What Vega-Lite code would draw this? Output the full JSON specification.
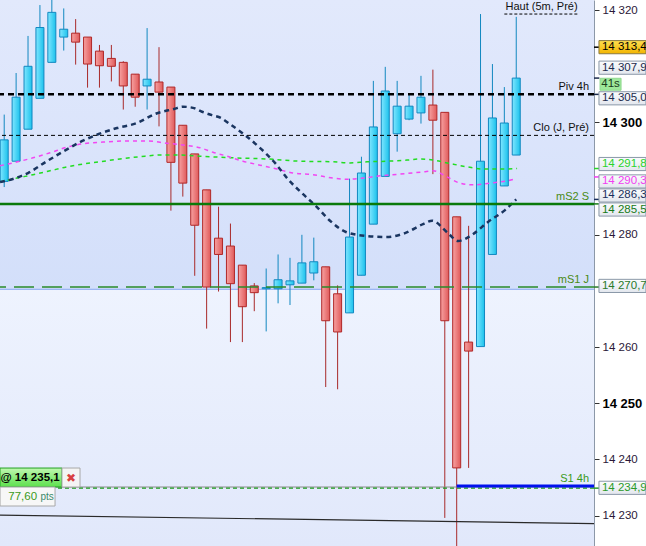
{
 "$schema": "https://vega.github.io/schema/vega-lite/v6.json",
 "width": 594,
 "height": 546,
 "autosize": {"type": "none"},
 "padding": {"left": 0, "top": 0, "right": 52, "bottom": 0},
 "background": "#ffffff",
 "config": {"view": {"stroke": null, "fill": "#e0e8fc"}, "font": "Liberation Sans"},
 "datasets": {
  "candles": [
   {"t":1,"open":14289.5,"high":14301.4,"low":14288.5,"close":14296.9},
   {"t":2,"open":14293.1,"high":14308.8,"low":14293.1,"close":14304.5},
   {"t":3,"open":14298.8,"high":14315.4,"low":14298.8,"close":14310.0},
   {"t":4,"open":14304.3,"high":14320.9,"low":14304.3,"close":14316.9},
   {"t":5,"open":14310.7,"high":14323.5,"low":14310.7,"close":14319.6},
   {"t":6,"open":14315.2,"high":14320.3,"low":14312.8,"close":14316.6},
   {"t":7,"open":14315.9,"high":14318.4,"low":14310.3,"close":14314.3},
   {"t":8,"open":14315.2,"high":14315.2,"low":14306.2,"close":14310.4},
   {"t":9,"open":14312.7,"high":14313.8,"low":14306.2,"close":14310.1},
   {"t":10,"open":14311.4,"high":14313.8,"low":14307.3,"close":14310.0},
   {"t":11,"open":14310.7,"high":14310.9,"low":14302.3,"close":14306.5},
   {"t":12,"open":14308.6,"high":14308.6,"low":14302.8,"close":14304.5},
   {"t":13,"open":14306.5,"high":14316.8,"low":14302.3,"close":14307.7},
   {"t":14,"open":14307.2,"high":14313.4,"low":14299.3,"close":14305.4},
   {"t":15,"open":14306.3,"high":14306.3,"low":14284.3,"close":14292.9},
   {"t":16,"open":14299.5,"high":14299.5,"low":14286.8,"close":14289.2},
   {"t":17,"open":14294.4,"high":14294.4,"low":14272.7,"close":14281.7},
   {"t":18,"open":14288.0,"high":14288.0,"low":14263.3,"close":14270.7},
   {"t":19,"open":14279.4,"high":14285.0,"low":14269.9,"close":14276.5},
   {"t":20,"open":14278.0,"high":14282.0,"low":14260.9,"close":14271.3},
   {"t":21,"open":14274.6,"high":14274.6,"low":14260.9,"close":14267.2},
   {"t":22,"open":14270.9,"high":14271.4,"low":14266.4,"close":14269.7},
   {"t":23,"open":14270.4,"high":14274.0,"low":14262.8,"close":14270.6},
   {"t":24,"open":14270.4,"high":14276.5,"low":14267.8,"close":14272.0},
   {"t":25,"open":14271.1,"high":14275.9,"low":14267.5,"close":14271.8},
   {"t":26,"open":14271.4,"high":14280.0,"low":14271.4,"close":14275.0},
   {"t":27,"open":14273.2,"high":14279.5,"low":14271.9,"close":14275.2},
   {"t":28,"open":14274.3,"high":14274.3,"low":14252.9,"close":14264.7},
   {"t":29,"open":14269.5,"high":14271.0,"low":14252.5,"close":14262.7},
   {"t":30,"open":14266.1,"high":14290.0,"low":14266.1,"close":14279.6},
   {"t":31,"open":14272.8,"high":14293.9,"low":14272.8,"close":14291.0},
   {"t":32,"open":14281.9,"high":14307.4,"low":14281.9,"close":14299.2},
   {"t":33,"open":14290.4,"high":14309.9,"low":14290.4,"close":14305.6},
   {"t":34,"open":14298.0,"high":14307.4,"low":14294.8,"close":14302.9},
   {"t":35,"open":14300.6,"high":14304.9,"low":14300.4,"close":14302.9},
   {"t":36,"open":14301.7,"high":14308.3,"low":14299.8,"close":14304.5},
   {"t":37,"open":14303.1,"high":14309.4,"low":14290.8,"close":14300.4},
   {"t":38,"open":14301.8,"high":14301.8,"low":14229.6,"close":14264.7},
   {"t":39,"open":14283.2,"high":14283.2,"low":14223.0,"close":14238.5},
   {"t":40,"open":14260.9,"high":14281.6,"low":14238.5,"close":14259.3},
   {"t":41,"open":14260.1,"high":14319.3,"low":14260.1,"close":14293.1},
   {"t":42,"open":14276.5,"high":14310.4,"low":14276.5,"close":14300.8},
   {"t":43,"open":14288.7,"high":14306.3,"low":14288.7,"close":14299.9},
   {"t":44,"open":14294.2,"high":14318.8,"low":14294.2,"close":14307.9}
  ],
  "navy": [{"t":0.65,"v":14289.4},{"t":1.66,"v":14289.9},{"t":3.0,"v":14291.0},{"t":4.51,"v":14293.0},{"t":5.85,"v":14294.7},{"t":7.37,"v":14296.5},{"t":8.88,"v":14297.9},{"t":10.47,"v":14299.0},{"t":12.15,"v":14299.9},{"t":13.66,"v":14301.5},{"t":15.26,"v":14302.4},{"t":16.02,"v":14302.8},{"t":16.85,"v":14302.6},{"t":17.61,"v":14301.9},{"t":18.45,"v":14301.3},{"t":19.21,"v":14300.8},{"t":19.96,"v":14299.7},{"t":21.31,"v":14297.6},{"t":22.57,"v":14295.3},{"t":23.74,"v":14292.8},{"t":24.83,"v":14289.9},{"t":26.01,"v":14287.4},{"t":27.18,"v":14285.1},{"t":28.36,"v":14282.5},{"t":29.7,"v":14280.5},{"t":31.38,"v":14279.8},{"t":33.06,"v":14279.6},{"t":34.66,"v":14280.3},{"t":36.17,"v":14281.9},{"t":36.93,"v":14282.5},{"t":38.27,"v":14280.3},{"t":39.11,"v":14278.9},{"t":40.29,"v":14280.0},{"t":41.63,"v":14282.3},{"t":43.06,"v":14284.4},{"t":44.0,"v":14286.3}],
  "magenta": [{"t":0.65,"v":14292.3},{"t":1.74,"v":14292.8},{"t":3.42,"v":14293.7},{"t":4.85,"v":14294.6},{"t":6.27,"v":14295.6},{"t":7.62,"v":14296.2},{"t":9.3,"v":14296.5},{"t":10.98,"v":14296.7},{"t":12.99,"v":14296.7},{"t":14.67,"v":14296.3},{"t":16.02,"v":14296.0},{"t":17.44,"v":14295.5},{"t":18.53,"v":14294.7},{"t":19.71,"v":14294.0},{"t":21.05,"v":14293.1},{"t":22.48,"v":14292.4},{"t":23.91,"v":14291.7},{"t":25.25,"v":14291.0},{"t":26.93,"v":14290.7},{"t":28.61,"v":14290.1},{"t":29.79,"v":14289.9},{"t":31.13,"v":14290.1},{"t":32.56,"v":14290.5},{"t":34.24,"v":14290.8},{"t":36.17,"v":14291.2},{"t":37.01,"v":14291.4},{"t":38.19,"v":14290.3},{"t":39.28,"v":14289.2},{"t":40.37,"v":14288.9},{"t":41.8,"v":14289.2},{"t":43.22,"v":14289.6},{"t":44.0,"v":14290.0}],
  "green": [{"t":0.65,"v":14289.4},{"t":2.07,"v":14290.1},{"t":3.42,"v":14290.7},{"t":4.85,"v":14291.4},{"t":6.27,"v":14292.1},{"t":7.62,"v":14292.6},{"t":9.04,"v":14293.0},{"t":10.72,"v":14293.5},{"t":12.4,"v":14293.9},{"t":14.08,"v":14294.2},{"t":15.76,"v":14294.2},{"t":17.44,"v":14294.0},{"t":20.21,"v":14293.7},{"t":23.07,"v":14293.5},{"t":25.84,"v":14293.1},{"t":28.61,"v":14293.0},{"t":30.04,"v":14292.8},{"t":31.47,"v":14293.0},{"t":33.15,"v":14293.1},{"t":34.83,"v":14293.3},{"t":35.92,"v":14293.5},{"t":37.01,"v":14293.3},{"t":38.19,"v":14292.8},{"t":39.87,"v":14292.1},{"t":41.21,"v":14291.7},{"t":42.64,"v":14291.7},{"t":44.07,"v":14291.8}],
  "levels": [
   {"name":"Piv 4h","price":14305.0},
   {"name":"Clo (J, Pré)","price":14297.7},
   {"name":"mS2 S","price":14285.5},
   {"name":"mS1 J","price":14270.7},
   {"name":"S1 4h","price":14235.3},
   {"name":"Haut (5m, Pré)","price":14319.3}
  ],
  "trend": [{"t":0.647,"price":14230.1},{"t":50.53,"price":14228.6}],
  "tags": [
   {"line":"last","tag":"14 313,4","value":14313.4,"shown":14313.4},
   {"line":"close","tag":"14 307,9","value":14307.9,"shown":14309.75},
   {"line":"piv","tag":"14 305,0","value":14305.0,"shown":14304.3},
   {"line":"ma1","tag":"14 291,8","value":14291.8,"shown":14292.6},
   {"line":"ma2","tag":"14 290,3","value":14290.3,"shown":14289.5},
   {"line":"ma3","tag":"14 286,3","value":14286.3,"shown":14287.0},
   {"line":"ms2","tag":"14 285,5","value":14285.5,"shown":14284.5},
   {"line":"ms1","tag":"14 270,7","value":14270.7,"shown":14270.9},
   {"line":"order","tag":"14 234,9","value":14234.9,"shown":14234.96}
  ],
  "timer": [{"label":"41s","shown":14306.8}],
  "order": [{"price":14235.1,"label":"@ 14 235,1","close":"✖","pts":"77,60","unit":"pts","stop":14234.9}]
 },
 "resolve": {"scale": {"color": "independent"}},
 "layer": [
  {
   "data": {"values": [{"zone":"upper"}]},
   "mark": {"type":"rect","fill":{"gradient":"linear","x1":0,"y1":0,"x2":0,"y2":1,"stops":[{"offset":0,"color":"#e2e9fc"},{"offset":1,"color":"#d3dffa"}]}},
   "encoding": {
    "x": {"datum":0.647,"type":"quantitative","scale":{"domain":[0.647,50.53],"nice":false,"zero":false,"padding":0},"axis":null},
    "x2": {"datum":50.53},
    "y": {"datum":14270.3,"type":"quantitative","scale":{"domain":[14224.6,14321.8],"nice":false,"zero":false},
      "axis":{"title":null,"orient":"right","values":[14230,14240,14250,14260,14280,14300,14320],
        "labelExpr":"replace(format(datum.value, ','), ',', ' ')",
        "labelFont":"Liberation Sans",
        "labelFontSize":{"condition":{"test":"datum.value == 14300 || datum.value == 14250","value":13},"value":11.5},
        "labelFontWeight":{"condition":{"test":"datum.value == 14300 || datum.value == 14250","value":"bold"},"value":"normal"},
        "labelColor":{"condition":{"test":"datum.value == 14300 || datum.value == 14250","value":"#000000"},"value":"#2a1838"},
        "tickSize":5,"tickColor":"#333333","domainColor":"#8c98a8","labelPadding":3,"grid":false,"labelFlush":false,"labelOverlap":false,"labelBaseline":"middle","zindex":0}},
    "y2": {"datum":14321.8}
   }
  },
  {
   "data": {"values": [{"zone":"lower"}]},
   "mark": {"type":"rect","fill":{"gradient":"linear","x1":0,"y1":0,"x2":0,"y2":1,"stops":[{"offset":0,"color":"#eef3fe"},{"offset":1,"color":"#e1e8fb"}]}},
   "encoding": {
    "x": {"datum":0.647,"type":"quantitative","axis":null},
    "x2": {"datum":50.53},
    "y": {"datum":14224.6,"type":"quantitative"},
    "y2": {"datum":14270.3}
   }
  },
  {
   "data": {"values": [{"zone":"edge"}]},
   "mark": {"type":"rule","color":"#86a8f0","strokeWidth":1},
   "encoding": {"y": {"datum":14270.3,"type":"quantitative"}}
  },
  {
   "data": {"name":"candles"},
   "transform": [{"filter":"datum.close >= datum.open"}],
   "mark": {"type":"rule","color":"#1288c0","strokeWidth":1,"clip":true},
   "encoding": {"x":{"field":"t","type":"quantitative","axis":null},"y":{"field":"low","type":"quantitative"},"y2":{"field":"high"}}
  },
  {
   "data": {"name":"candles"},
   "transform": [{"filter":"datum.close < datum.open"}],
   "mark": {"type":"rule","color":"#a82a2a","strokeWidth":1,"clip":true},
   "encoding": {"x":{"field":"t","type":"quantitative","axis":null},"y":{"field":"low","type":"quantitative"},"y2":{"field":"high"}}
  },
  {
   "data": {"name":"candles"},
   "transform": [{"filter":"datum.close >= datum.open"}],
   "mark": {"type":"bar","width":8,"clip":true,"stroke":"#1288c0","strokeWidth":1,"fill":{"gradient":"linear","x1":0,"y1":0,"x2":1,"y2":0,"stops":[{"offset":0,"color":"#7fe6ff"},{"offset":1,"color":"#1cc2ec"}]}},
   "encoding": {"x":{"field":"t","type":"quantitative","axis":null},"y":{"field":"open","type":"quantitative"},"y2":{"field":"close"}}
  },
  {
   "data": {"name":"candles"},
   "transform": [{"filter":"datum.close < datum.open"}],
   "mark": {"type":"bar","width":8,"clip":true,"stroke":"#b02828","strokeWidth":1,"fill":{"gradient":"linear","x1":0,"y1":0,"x2":1,"y2":0,"stops":[{"offset":0,"color":"#f7a2a2"},{"offset":1,"color":"#e05a5a"}]}},
   "encoding": {"x":{"field":"t","type":"quantitative","axis":null},"y":{"field":"open","type":"quantitative"},"y2":{"field":"close"}}
  },
  {
   "data": {"name":"green"},
   "mark": {"type":"line","color":"#22dd22","strokeWidth":1.5,"strokeDash":[4,4],"interpolate":"monotone","clip":true},
   "encoding": {"x":{"field":"t","type":"quantitative","axis":null},"y":{"field":"v","type":"quantitative"}}
  },
  {
   "data": {"name":"magenta"},
   "mark": {"type":"line","color":"#f246f2","strokeWidth":1.5,"strokeDash":[4,4],"interpolate":"monotone","clip":true},
   "encoding": {"x":{"field":"t","type":"quantitative","axis":null},"y":{"field":"v","type":"quantitative"}}
  },
  {
   "data": {"name":"navy"},
   "mark": {"type":"line","color":"#1a3560","strokeWidth":2.5,"strokeDash":[5,4],"interpolate":"monotone","clip":true},
   "encoding": {"x":{"field":"t","type":"quantitative","axis":null},"y":{"field":"v","type":"quantitative"}}
  },
  {
   "data": {"name":"trend"},
   "mark": {"type":"line","color":"#2a2a2a","strokeWidth":1.2,"clip":true},
   "encoding": {"x":{"field":"t","type":"quantitative","axis":null},"y":{"field":"price","type":"quantitative"}}
  },
  {
   "data": {"name":"levels"},
   "transform": [{"filter":"datum.name == 'Piv 4h'"}],
   "mark": {"type":"rule","color":"#000000","strokeWidth":2.5,"strokeDash":[6,4]},
   "encoding": {"y":{"field":"price","type":"quantitative"}}
  },
  {
   "data": {"name":"levels"},
   "transform": [{"filter":"datum.name == 'Clo (J, Pré)'"}],
   "mark": {"type":"rule","color":"#000000","strokeWidth":1,"strokeDash":[4,3]},
   "encoding": {"y":{"field":"price","type":"quantitative"}}
  },
  {
   "data": {"name":"levels"},
   "transform": [{"filter":"datum.name == 'Haut (5m, Pré)'"}],
   "mark": {"type":"rule","color":"#000000","strokeWidth":1,"strokeDash":[3,2]},
   "encoding": {"x":{"datum":43,"type":"quantitative","axis":null},"x2":{"datum":49.2},"y":{"field":"price","type":"quantitative"}}
  },
  {
   "data": {"name":"levels"},
   "transform": [{"filter":"datum.name == 'mS2 S'"}],
   "mark": {"type":"rule","color":"#0a7a0a","strokeWidth":2.5},
   "encoding": {"y":{"field":"price","type":"quantitative"}}
  },
  {
   "data": {"name":"levels"},
   "transform": [{"filter":"datum.name == 'mS1 J'"}],
   "mark": {"type":"rule","color":"#2a8a2a","strokeWidth":1.5,"strokeDash":[20,8]},
   "encoding": {"y":{"field":"price","type":"quantitative"}}
  },
  {
   "data": {"name":"order"},
   "mark": {"type":"rule","color":"#8a8a8a","strokeWidth":1},
   "encoding": {"x":{"datum":5.27,"type":"quantitative","axis":null},"x2":{"datum":50.53},"y":{"field":"price","type":"quantitative"}}
  },
  {
   "data": {"name":"order"},
   "mark": {"type":"rule","color":"#1a9a1a","strokeWidth":1.2,"strokeDash":[4,3]},
   "encoding": {"y":{"field":"stop","type":"quantitative"}}
  },
  {
   "data": {"name":"levels"},
   "transform": [{"filter":"datum.name == 'S1 4h'"}],
   "mark": {"type":"rule","color":"#0010ee","strokeWidth":3},
   "encoding": {"x":{"datum":39,"type":"quantitative","axis":null},"x2":{"datum":50.53},"y":{"field":"price","type":"quantitative"}}
  },
  {
   "data": {"name":"levels"},
   "transform": [{"filter":"datum.name != 'Haut (5m, Pré)'"}],
   "mark": {"type":"text","align":"right","baseline":"middle","dy":-7,"fontSize":11,"font":"Liberation Sans"},
   "encoding": {
    "x":{"datum":50.11,"type":"quantitative","axis":null},
    "y":{"field":"price","type":"quantitative"},
    "text":{"field":"name"},
    "color":{"field":"name","type":"nominal","legend":null,"scale":{"domain":["Piv 4h","Clo (J, Pré)","mS2 S","mS1 J","S1 4h"],"range":["#111111","#111111","#4a8a14","#4a8a14","#3a9a20"]}}
   }
  },
  {
   "data": {"name":"levels"},
   "transform": [{"filter":"datum.name == 'Haut (5m, Pré)'"}],
   "mark": {"type":"text","align":"left","baseline":"middle","dy":-7,"fontSize":11,"font":"Liberation Sans","color":"#111111"},
   "encoding": {
    "x":{"datum":43.1,"type":"quantitative","axis":null},
    "y":{"field":"price","type":"quantitative"},
    "text":{"field":"name"}
   }
  },
  {
   "data": {"name":"tags"},
   "mark": {"type":"rule","strokeWidth":1.5,"clip":false},
   "encoding": {
    "x":{"datum":50.53,"type":"quantitative","axis":null},"x2":{"datum":50.98},
    "y":{"field":"value","type":"quantitative"},
    "color":{"field":"line","type":"nominal","legend":null,"scale":{"domain":["last","close","piv","ma1","ma2","ma3","ms2","ms1","order"],"range":["#000000","#1c2a4c","#1c2a4c","#2ad42a","#f23cf2","#1a2f5c","#167a16","#2a7a2a","#2a9a2a"]}}
   }
  },
  {
   "data": {"name":"tags"},
   "transform": [{"filter":"datum.line != 'last'"}],
   "mark": {"type":"point","shape":"M-1,-0.28H1V0.28H-1Z","size":2209,"filled":true,"clip":false,"stroke":"#8a98a8","strokeWidth":1,"opacity":1,"fill":{"gradient":"linear","x1":0,"y1":0,"x2":0,"y2":1,"stops":[{"offset":0,"color":"#fbfcfd"},{"offset":1,"color":"#e3e7ee"}]}},
   "encoding": {"x":{"datum":52.92,"type":"quantitative","axis":null},"y":{"field":"shown","type":"quantitative"}}
  },
  {
   "data": {"name":"tags"},
   "transform": [{"filter":"datum.line == 'last'"}],
   "mark": {"type":"point","shape":"M-1,-0.28H1V0.28H-1Z","size":2209,"filled":true,"clip":false,"stroke":"#8a7a40","strokeWidth":1,"opacity":1,"fill":{"gradient":"linear","x1":0,"y1":0,"x2":0,"y2":1,"stops":[{"offset":0,"color":"#ffdf50"},{"offset":1,"color":"#f2b400"}]}},
   "encoding": {"x":{"datum":52.92,"type":"quantitative","axis":null},"y":{"field":"shown","type":"quantitative"}}
  },
  {
   "data": {"name":"tags"},
   "mark": {"type":"text","align":"left","baseline":"middle","fontSize":11.5,"font":"Liberation Sans","clip":false},
   "encoding": {
    "x":{"datum":51.2,"type":"quantitative","axis":null},
    "y":{"field":"shown","type":"quantitative"},
    "text":{"field":"tag"},
    "color":{"field":"line","type":"nominal","legend":null,"scale":{"domain":["last","close","piv","ma1","ma2","ma3","ms2","ms1","order"],"range":["#000000","#1c2a4c","#1c2a4c","#2ad42a","#f23cf2","#1a2f5c","#167a16","#2a7a2a","#2a9a2a"]}}
   }
  },
  {
   "data": {"name":"timer"},
   "mark": {"type":"point","shape":"M-1,-0.57H1V0.57H-1Z","size":441,"filled":true,"clip":false,"stroke":"#8fd88f","strokeWidth":1,"opacity":1,"fill":"#9ee89a"},
   "encoding": {"x":{"datum":51.92,"type":"quantitative","axis":null},"y":{"field":"shown","type":"quantitative"}}
  },
  {
   "data": {"name":"timer"},
   "mark": {"type":"text","align":"center","baseline":"middle","fontSize":11.5,"font":"Liberation Sans","color":"#1a3a1a","clip":false},
   "encoding": {"x":{"datum":51.92,"type":"quantitative","axis":null},"y":{"field":"shown","type":"quantitative"},"text":{"field":"label"}}
  },
  {
   "data": {"name":"order"},
   "mark": {"type":"point","shape":"M-1,-0.306H1V0.306H-1Z","size":3844,"filled":true,"opacity":1,"stroke":"#22a022","strokeWidth":1,"fill":{"gradient":"linear","x1":0,"y1":0,"x2":0,"y2":1,"stops":[{"offset":0,"color":"#c0f8b0"},{"offset":1,"color":"#5ce04c"}]}},
   "encoding": {"x":{"datum":3.25,"type":"quantitative","axis":null},"y":{"field":"price","type":"quantitative"},"yOffset":{"value":-9.5}}
  },
  {
   "data": {"name":"order"},
   "mark": {"type":"text","align":"center","baseline":"middle","fontSize":11.5,"fontWeight":"bold","font":"Liberation Sans","color":"#000000"},
   "encoding": {"x":{"datum":3.17,"type":"quantitative","axis":null},"y":{"field":"price","type":"quantitative"},"yOffset":{"value":-9.5},"text":{"field":"label"}}
  },
  {
   "data": {"name":"order"},
   "mark": {"type":"point","shape":"M-0.947,-1H0.947V1H-0.947Z","size":361,"filled":true,"opacity":1,"stroke":"#a8a8a8","strokeWidth":1,"fill":"#f4f4f4"},
   "encoding": {"x":{"datum":6.61,"type":"quantitative","axis":null},"y":{"field":"price","type":"quantitative"},"yOffset":{"value":-9.5}}
  },
  {
   "data": {"name":"order"},
   "mark": {"type":"text","align":"center","baseline":"middle","fontSize":12,"font":"DejaVu Sans","color":"#d84040"},
   "encoding": {"x":{"datum":6.61,"type":"quantitative","axis":null},"y":{"field":"price","type":"quantitative"},"yOffset":{"value":-9.5},"text":{"field":"close"}}
  },
  {
   "data": {"name":"order"},
   "mark": {"type":"point","shape":"M-1,-0.345H1V0.345H-1Z","size":3025,"filled":true,"opacity":1,"stroke":"#a8a8a8","strokeWidth":1,"fill":"#f7f7f7"},
   "encoding": {"x":{"datum":2.96,"type":"quantitative","axis":null},"y":{"field":"price","type":"quantitative"},"yOffset":{"value":9.5}}
  },
  {
   "data": {"name":"order"},
   "mark": {"type":"text","align":"left","baseline":"middle","fontSize":11.5,"font":"Liberation Sans","color":"#3a9a22"},
   "encoding": {"x":{"datum":1.34,"type":"quantitative","axis":null},"y":{"field":"price","type":"quantitative"},"yOffset":{"value":9.5},"text":{"field":"pts"}}
  },
  {
   "data": {"name":"order"},
   "mark": {"type":"text","align":"left","baseline":"middle","fontSize":10,"font":"Liberation Sans","color":"#3a8a6a"},
   "encoding": {"x":{"datum":4.05,"type":"quantitative","axis":null},"y":{"field":"price","type":"quantitative"},"yOffset":{"value":10},"text":{"field":"unit"}}
  }
 ]
}
